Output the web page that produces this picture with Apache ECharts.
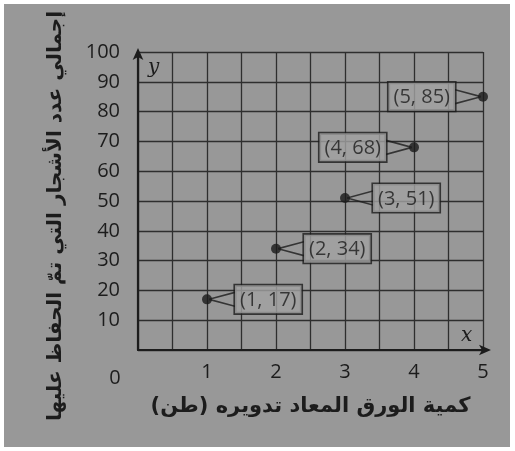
<!DOCTYPE html>
<html>
<head>
<meta charset="utf-8">
<script src="https://cdn.jsdelivr.net/npm/echarts@6/dist/echarts.min.js"></script>
<style>
html,body{margin:0;padding:0;background:#ffffff;}
#wrap{position:absolute;left:4px;top:4px;width:506px;height:443px;background:#989898;}
#chart{position:absolute;left:-4px;top:-4px;width:515px;height:451px;}
</style>
</head>
<body>
<div id="wrap"><div id="chart"></div></div>
<script>
var tons = [1, 2, 3, 4, 5];
var trees = [17, 34, 51, 68, 85];
var labelSides = ['right', 'right', 'right', 'left', 'left'];
var xTitle = 'كمية الورق المعاد تدويره (طن)';
var yTitle = 'إجمالي عدد الأشجار التي تمّ الحفاظ عليها';

var ink = '#1c1c1c';
var gridInk = '#2e2e2e';

function tailImg(dir) {
  var path = dir === 'right'
    ? 'M0 9 L26 2 M0 9 L26 16'
    : 'M26 9 L0 2 M26 9 L0 16';
  var svg = '<svg xmlns="http://www.w3.org/2000/svg" width="26" height="18" viewBox="0 0 26 18">' +
    '<path d="' + path + '" stroke="#1c1c1c" stroke-width="1.6" fill="none" stroke-linecap="round"/></svg>';
  return 'data:image/svg+xml;charset=utf-8,' + encodeURIComponent(svg);
}

var points = tons.map(function (t, i) {
  var side = labelSides[i];
  var txt = '(' + t + ', ' + trees[i] + ')';
  return {
    value: [t, trees[i]],
    label: {
      position: side,
      formatter: side === 'right' ? '{tr|}{b|' + txt + '}' : '{b|' + txt + '}{tl|}'
    }
  };
});

var chart = echarts.init(document.getElementById('chart'), null, {renderer: 'canvas'});
chart.setOption({
  backgroundColor: 'transparent',
  animation: false,
  grid: {left: 138, top: 52, right: 32, bottom: 101},
  xAxis: [{
    type: 'value', min: 0, max: 5, interval: 0.5,
    name: 'x', nameLocation: 'end', nameGap: -22,
    nameTextStyle: {fontFamily: 'DejaVu Serif', fontStyle: 'italic', fontSize: 20, color: ink, verticalAlign: 'bottom', align: 'left', padding: [0, 0, 4, 0]},
    axisLine: {show: true, lineStyle: {color: ink, width: 2.2}, symbol: ['none', 'arrow'], symbolSize: [8, 12], symbolOffset: [0, 8]},
    axisTick: {show: false},
    splitLine: {show: true, lineStyle: {color: gridInk, width: 1.3}},
    axisLabel: {
      color: ink, fontFamily: 'Open Sans', fontSize: 20, margin: 12,
      showMinLabel: true, showMaxLabel: true,
      formatter: function (v) {
        if (v === 0) return '{z|0}';
        return Number.isInteger(v) ? String(v) : '';
      },
      rich: {z: {color: ink, fontFamily: 'Open Sans', fontSize: 20, padding: [6, 46, 0, 0]}}
    }
  }, {
    type: 'value', min: 0, max: 5, position: 'bottom',
    name: xTitle, nameLocation: 'middle', nameGap: 46,
    nameTextStyle: {fontFamily: 'DejaVu Sans', fontWeight: 'bold', fontSize: 21, color: ink},
    axisLine: {show: false}, axisTick: {show: false}, axisLabel: {show: false}, splitLine: {show: false}
  }],
  yAxis: [{
    type: 'value', min: 0, max: 100, interval: 10,
    name: 'y', nameLocation: 'end', nameGap: -26,
    nameTextStyle: {fontFamily: 'DejaVu Serif', fontStyle: 'italic', fontSize: 20, color: ink, align: 'left', verticalAlign: 'bottom', padding: [0, 0, 0, 10]},
    axisLine: {show: true, lineStyle: {color: ink, width: 2.2}, symbol: ['none', 'arrow'], symbolSize: [8, 12], symbolOffset: [0, 4]},
    axisTick: {show: false},
    splitLine: {show: true, lineStyle: {color: gridInk, width: 1.3}},
    axisLabel: {
      color: ink, fontFamily: 'Open Sans', fontSize: 20, margin: 18,
      formatter: function (v) { return v === 0 ? '' : String(v); }
    }
  }, {
    type: 'value', min: 0, max: 100, position: 'left',
    name: yTitle, nameLocation: 'middle', nameGap: 72, nameRotate: 90,
    nameTextStyle: {fontFamily: 'DejaVu Sans', fontWeight: 'bold', fontSize: 20, color: ink, padding: [0, 30, 0, 0]},
    axisLine: {show: false}, axisTick: {show: false}, axisLabel: {show: false}, splitLine: {show: false}
  }],
  series: [{
    type: 'scatter',
    data: points,
    symbol: 'circle',
    symbolSize: 10,
    itemStyle: {color: '#1a1a1a'},
    label: {
      show: true,
      distance: -3,
      rich: {
        tr: {width: 26, height: 18, backgroundColor: {image: tailImg('right')}},
        tl: {width: 26, height: 18, backgroundColor: {image: tailImg('left')}},
        b: {fontFamily: 'Open Sans', fontSize: 20, color: ink, borderColor: ink, borderWidth: 1.6, padding: [5, 5, 3, 5], backgroundColor: '#a2a2a2'}
      }
    }
  }]
});
</script>
</body>
</html>
